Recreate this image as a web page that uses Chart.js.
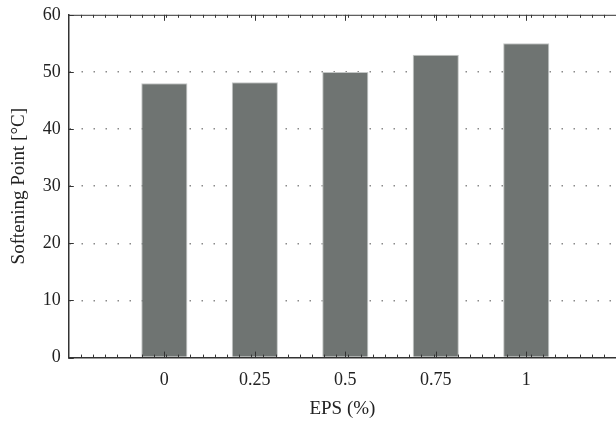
<!DOCTYPE html>
<html>
<head>
<meta charset="utf-8">
<script src="https://cdn.jsdelivr.net/npm/chart.js@4/dist/chart.umd.min.js"></script>
<style>
  html, body { margin: 0; padding: 0; background: #fff; overflow: hidden; }
  #wrap { width: 616px; height: 428px; margin-top: -4px; }
</style>
</head>
<body>
<div id="wrap"><canvas id="chart"></canvas></div>
<script>
  const eps = [0, 0.25, 0.5, 0.75, 1];
  const softening = [48, 48.2, 50, 53, 55];
  const xTicks = [0, 0.25, 0.5, 0.75, 1];
  const yTicks = [0, 10, 20, 30, 40, 50, 60];

  const barColor = "#6f7472";
  const axisColor = "#333333";
  const family = "'Liberation Serif', 'DejaVu Serif', serif";
  const font = { family, size: 18 };
  const titleFont = { family, size: 19 };

  // top frame line plus the small tick marks along the axes
  const frameTicks = {
    id: "frameTicks",
    afterDraw(chart) {
      const { ctx, chartArea: a, scales } = chart;
      const x = scales.x;
      const y = scales.y;
      ctx.save();
      ctx.strokeStyle = axisColor;
      ctx.lineWidth = 1;
      ctx.beginPath();
      ctx.moveTo(a.left, a.top + 0.5);
      ctx.lineTo(a.right, a.top + 0.5);
      const minorCount = 45;
      for (let k = 1; k < minorCount; k++) {
        const px = Math.round(x.getPixelForValue(x.min + (k * (x.max - x.min)) / minorCount)) + 0.5;
        ctx.moveTo(px, a.bottom);
        ctx.lineTo(px, a.bottom - 3);
        ctx.moveTo(px, a.top);
        ctx.lineTo(px, a.top + 3);
      }
      xTicks.forEach((v) => {
        const px = Math.round(x.getPixelForValue(v)) + 0.5;
        ctx.moveTo(px, a.bottom);
        ctx.lineTo(px, a.bottom - 6);
        ctx.moveTo(px, a.top);
        ctx.lineTo(px, a.top + 6);
      });
      yTicks.forEach((v) => {
        const py = Math.round(y.getPixelForValue(v)) + 0.5;
        ctx.moveTo(a.left, py);
        ctx.lineTo(a.left + 5, py);
      });
      ctx.stroke();
      ctx.restore();
    },
  };

  new Chart(document.getElementById("chart"), {
    type: "bar",
    data: {
      datasets: [
        {
          label: "Softening Point",
          data: eps.map((e, i) => ({ x: e, y: softening[i] })),
          backgroundColor: barColor,
          borderColor: "#c4c7c6",
          borderWidth: 1,
          categoryPercentage: 1,
          barPercentage: 0.51,
        },
      ],
    },
    options: {
      responsive: true,
      maintainAspectRatio: false,
      animation: false,
      layout: { padding: { top: 2, right: 0, left: 4, bottom: 0 } },
      plugins: { legend: { display: false }, tooltip: { enabled: false } },
      scales: {
        x: {
          type: "linear",
          min: -0.264,
          max: 1.248,
          offset: false,
          afterBuildTicks(scale) {
            scale.ticks = xTicks.map((v) => ({ value: v }));
          },
          grid: { display: false, drawTicks: false },
          border: { display: true, color: axisColor, width: 1.5 },
          ticks: { color: "#222", font, padding: 12, autoSkip: false, maxRotation: 0, callback: (v) => String(v) },
          title: { display: true, text: "EPS (%)", color: "#222", font: titleFont, padding: { top: -6, bottom: 4 } },
        },
        y: {
          min: 0,
          max: 60,
          afterBuildTicks(scale) {
            scale.ticks = yTicks.map((v) => ({ value: v }));
          },
          grid: {
            drawTicks: false,
            lineWidth: 1.5,
            color: (c) => (c.tick && c.tick.value > 0 && c.tick.value < 60 ? "#8a8a8a" : "rgba(0,0,0,0)"),
          },
          border: { display: true, color: axisColor, width: 1.5, dash: [1.5, 10.5] },
          ticks: { color: "#222", font, padding: 8 },
          title: { display: true, text: "Softening Point [°C]", color: "#222", font: titleFont, padding: { bottom: 4 } },
        },
      },
    },
    plugins: [frameTicks],
  });
</script>
</body>
</html>
